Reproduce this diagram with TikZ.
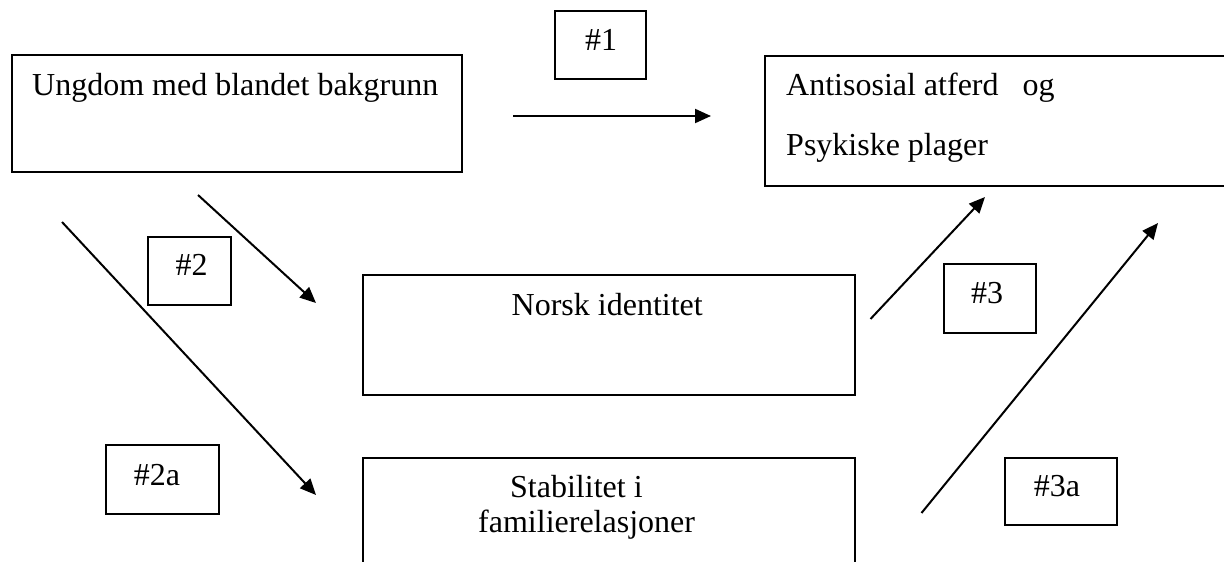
\documentclass[tikz,border=0pt]{standalone}
\usepackage{fontspec}
\setmainfont{Liberation Serif}
\usetikzlibrary{arrows.meta}
\begin{document}
\begin{tikzpicture}[x=1pt,y=-1pt,
  frame/.style={draw=black, line width=1.7pt, inner sep=0pt, anchor=north west},
  txt/.style={anchor=base west, inner sep=0pt, font=\fontsize{32}{38}\selectfont},
  lbl/.style={anchor=base, inner sep=0pt, font=\fontsize{32}{38}\selectfont},
  arr/.style={-{Triangle[length=16pt,width=14pt]}, line width=2pt}]
\fill[white] (0,0) rectangle (1224,562);
\useasboundingbox (0,0) rectangle (1224,562);
\clip (0,0) rectangle (1224,562);
% main boxes
\node[frame, minimum width=450pt, minimum height=117pt] (A) at (11,54) {};
\node[txt] (At) at (32,95) {Ungdom med blandet bakgrunn};
\node[frame, minimum width=500pt, minimum height=130pt] (B) at (764,55) {};
\node[txt] (Bt1) at (786,95) {Antisosial atferd\ \ \ og};
\node[txt] (Bt2) at (786,155) {Psykiske plager};
\node[frame, minimum width=492pt, minimum height=120pt] (C) at (362,274) {};
\node[txt] (Ct) at (511.5,315) {Norsk identitet};
\node[frame, minimum width=492pt, minimum height=150pt] (D) at (362,457) {};
\node[txt] (Dt1) at (510,497.5) {Stabilitet i};
\node[txt] (Dt2) at (478,532.5) {familierelasjoner};
% label boxes
\node[frame, minimum width=91pt, minimum height=68pt] (L1) at (554,10) {};
\node[lbl] (L1t) at (601,50) {\#1};
\node[frame, minimum width=83pt, minimum height=68pt] (L2) at (147,236) {};
\node[lbl] (L2t) at (191.5,275) {\#2};
\node[frame, minimum width=113pt, minimum height=69pt] (L2a) at (105,444) {};
\node[lbl] (L2at) at (157,485) {\#2a};
\node[frame, minimum width=92pt, minimum height=69pt] (L3) at (943,263) {};
\node[lbl] (L3t) at (987,303) {\#3};
\node[frame, minimum width=112pt, minimum height=67pt] (L3a) at (1004,457) {};
\node[lbl] (L3at) at (1057,496) {\#3a};
% arrow end points
\coordinate (p1s) at (513,116);
\coordinate (p1e) at (711,116);
\coordinate (p2s) at (198,195);
\coordinate (p2e) at (316,303);
\coordinate (p2as) at (62,222);
\coordinate (p2ae) at (316,495);
\coordinate (p3s) at (870.5,319);
\coordinate (p3e) at (985,197);
\coordinate (p3as) at (921.5,513);
\coordinate (p3ae) at (1158,223);
\draw[arr] (p1s) -- (p1e);
\draw[arr] (p2s) -- (p2e);
\draw[arr] (p2as) -- (p2ae);
\draw[arr] (p3s) -- (p3e);
\draw[arr] (p3as) -- (p3ae);
\end{tikzpicture}
\end{document}
